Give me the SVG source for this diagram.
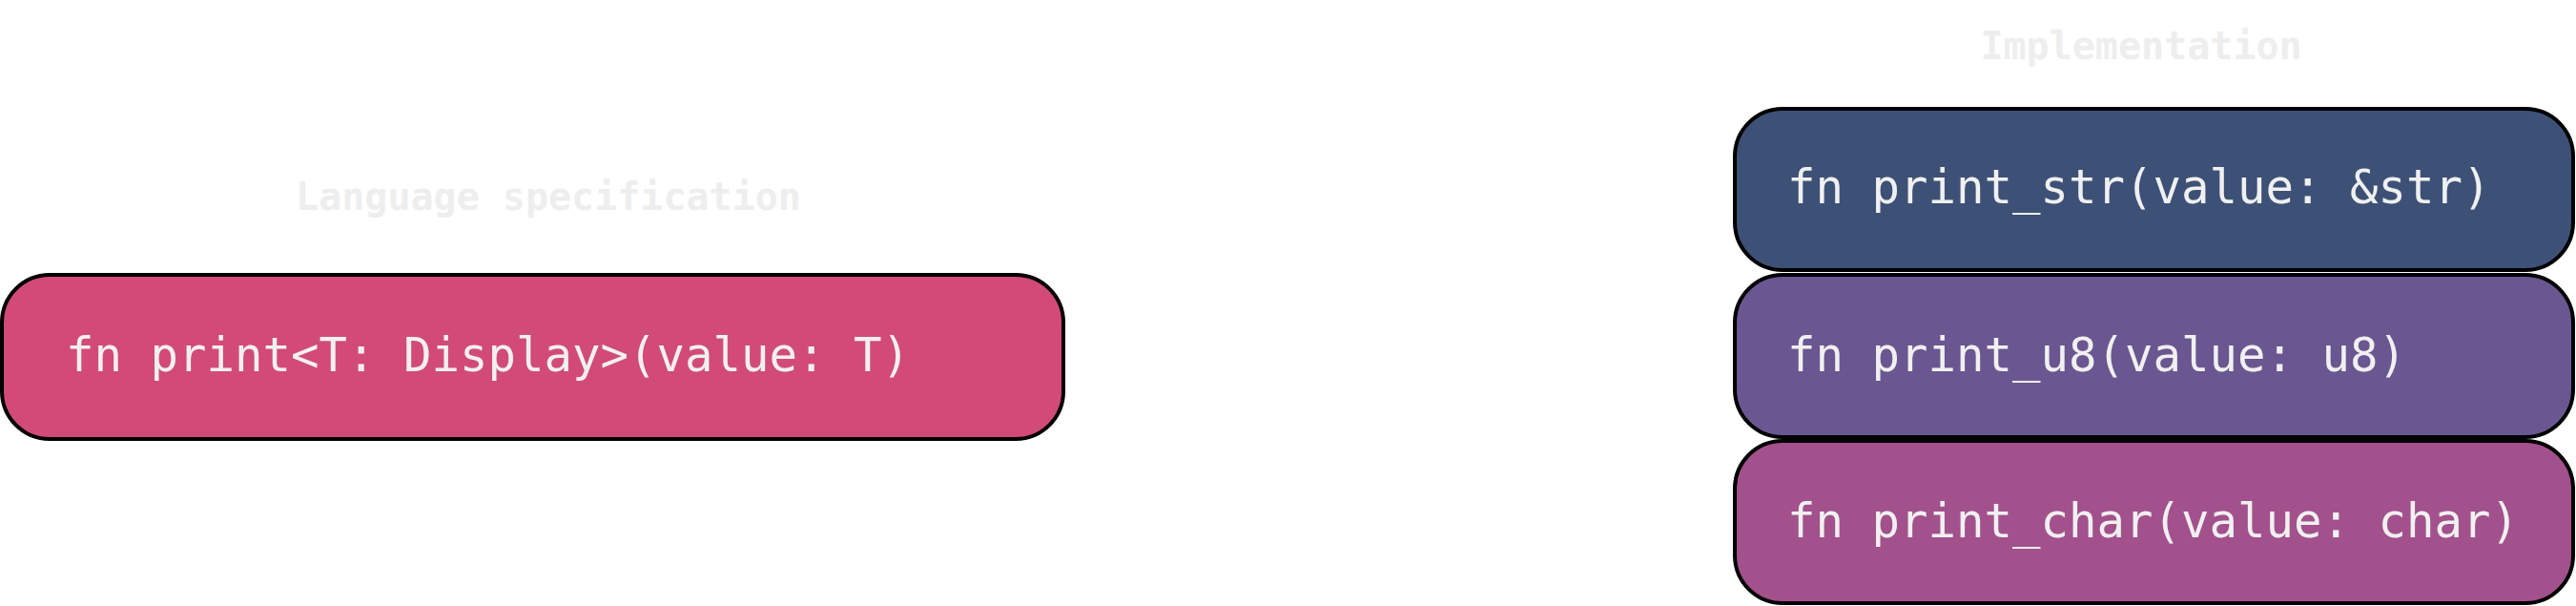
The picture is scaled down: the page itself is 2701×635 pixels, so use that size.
<svg xmlns="http://www.w3.org/2000/svg" width="2701" height="635" viewBox="0 0 2701 635">
<style>
.node{stroke:#000;stroke-width:4}
.t{font-family:"DejaVu Sans Mono","Liberation Mono",monospace;font-size:49px;fill:#f0f0f0}
.h{font-family:"DejaVu Sans Mono","Liberation Mono",monospace;font-size:40px;font-weight:bold;fill:#eeeeee;text-anchor:middle}
.c{stroke:#ffffff;stroke-width:3;fill:none}
</style>
<defs><marker id="a" markerWidth="8" markerHeight="8" refX="7" refY="4" orient="auto"><path d="M0,0L8,4L0,8z" fill="#ffffff"/></marker></defs>
<rect width="2701" height="635" fill="#ffffff"/>
<text class="h" x="575" y="220">Language specification</text>
<text class="h" x="2245" y="62">Implementation</text>
<g id="connectors">
<path class="c" d="M1115,374 C1450,374 1500,198 1817,198" marker-end="url(#a)"/>
<path class="c" d="M1115,374 L1817,373" marker-end="url(#a)"/>
<path class="c" d="M1115,374 C1450,374 1500,547 1817,547" marker-end="url(#a)"/>
</g>
<g id="spec"><rect class="node" x="2" y="288" width="1113" height="172" rx="50" fill="#d24a77"/><text class="t" x="69" y="389">fn print&lt;T: Display&gt;(value: T)</text></g>
<g id="str"><rect class="node" x="1819" y="114" width="879" height="169" rx="50" fill="#3d5177"/><text class="t" x="1874" y="213">fn print_str(value: &amp;str)</text></g>
<g id="u8"><rect class="node" x="1819" y="288" width="879" height="170" rx="50" fill="#6a5690"/><text class="t" x="1874" y="389">fn print_u8(value: u8)</text></g>
<g id="char"><rect class="node" x="1819" y="462" width="879" height="170" rx="50" fill="#a2518c"/><text class="t" x="1874" y="563">fn print_char(value: char)</text></g>
</svg>
